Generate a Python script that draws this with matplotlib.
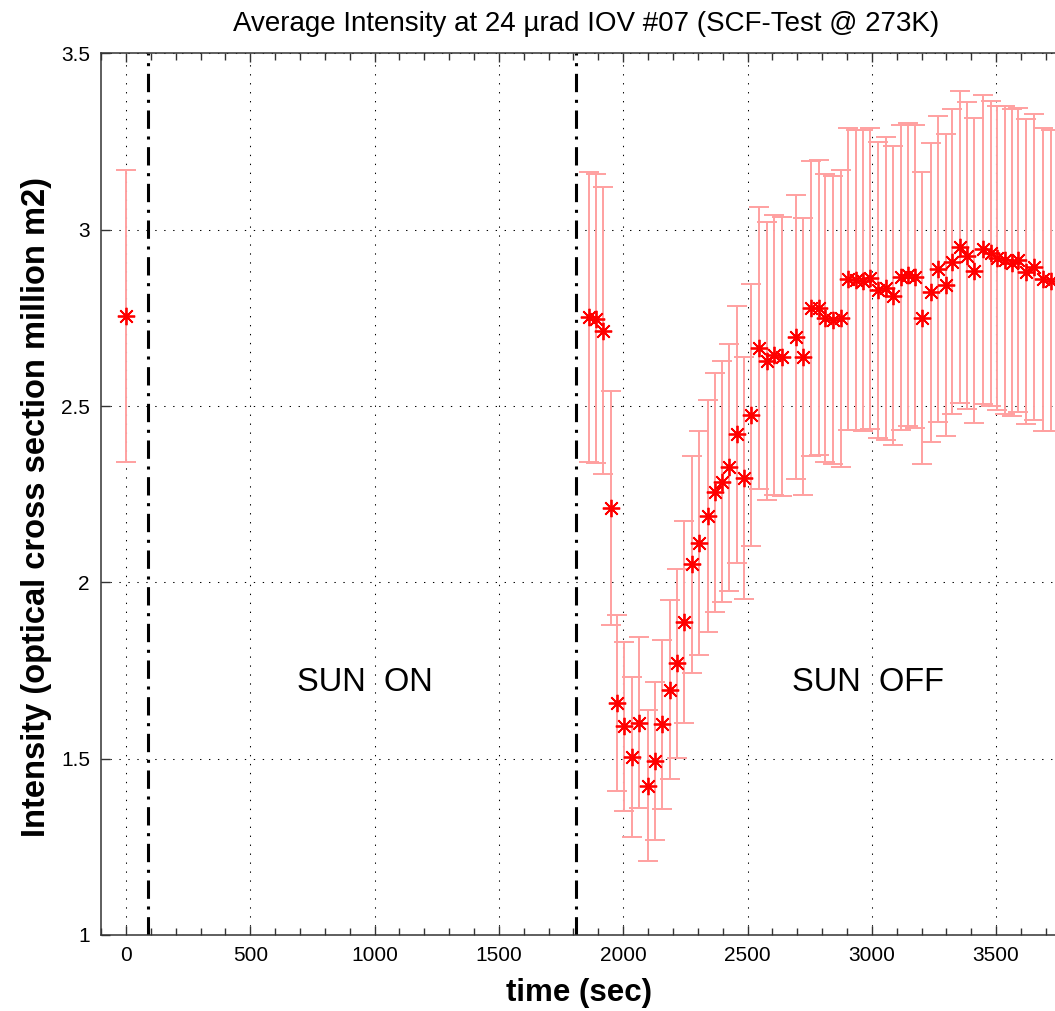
import numpy as np
import matplotlib
matplotlib.use('Agg')
import matplotlib.pyplot as plt
from matplotlib.ticker import MultipleLocator

plt.rcParams['font.family'] = ['Liberation Sans Narrow', 'Liberation Sans', 'DejaVu Sans']

# data
time = [0, 1862, 1891, 1920, 1950, 1976, 2004, 2037, 2065, 2101, 2128, 2157,
        2188, 2218, 2246, 2275, 2305, 2340, 2369, 2399, 2427, 2456, 2485, 2513,
        2548, 2580, 2608, 2638, 2695, 2722, 2754, 2788, 2812, 2843, 2875, 2905,
        2935, 2963, 2993, 3026, 3057, 3087, 3116, 3144, 3174, 3203, 3238, 3268,
        3297, 3324, 3355, 3384, 3412, 3449, 3478, 3505, 3536, 3563, 3589, 3620,
        3652, 3687, 3720]
intensity = [2.755, 2.753, 2.748, 2.714, 2.210, 1.657, 1.592, 1.505, 1.602, 1.423,
             1.494, 1.597, 1.695, 1.770, 1.888, 2.051, 2.111, 2.188, 2.255, 2.285,
             2.326, 2.420, 2.296, 2.474, 2.664, 2.628, 2.645, 2.640, 2.695, 2.640,
             2.777, 2.779, 2.749, 2.744, 2.749, 2.860, 2.857, 2.855, 2.862, 2.829,
             2.834, 2.812, 2.865, 2.872, 2.867, 2.750, 2.822, 2.889, 2.843, 2.909,
             2.950, 2.926, 2.884, 2.944, 2.933, 2.921, 2.914, 2.906, 2.914, 2.881,
             2.893, 2.859, 2.855]
err = [0.415, 0.412, 0.410, 0.408, 0.332, 0.249, 0.240, 0.226, 0.242, 0.214,
       0.224, 0.240, 0.254, 0.267, 0.286, 0.308, 0.318, 0.329, 0.340, 0.342,
       0.350, 0.364, 0.344, 0.372, 0.400, 0.394, 0.398, 0.395, 0.402, 0.392,
       0.418, 0.419, 0.408, 0.409, 0.421, 0.429, 0.425, 0.427, 0.427, 0.421,
       0.430, 0.424, 0.432, 0.430, 0.430, 0.414, 0.423, 0.434, 0.428, 0.432,
       0.442, 0.435, 0.432, 0.438, 0.433, 0.431, 0.437, 0.435, 0.432, 0.432,
       0.434, 0.430, 0.427]
sun_lines = [90, 1810]
xticks = [0, 500, 1000, 1500, 2000, 2500, 3000, 3500]
yticks = [1, 1.5, 2, 2.5, 3, 3.5]
ytick_labels = ['1', '1.5', '2', '2.5', '3', '3.5']

fig = plt.figure(figsize=(10.55, 10.11), dpi=100)
# axes run past the right edge of the picture, as in the reference
ax = fig.add_axes([101.1 / 1055, 76.1 / 1011, 969.6 / 1055, 881.5 / 1011])

ax.errorbar(time, intensity, yerr=err, fmt='none', ecolor='#ffa0a0',
            elinewidth=1.4, capsize=7, capthick=1.4, zorder=3)
ax.plot(time, intensity, linestyle='none', marker=(8, 2, 0), markersize=12.5,
        markeredgewidth=1.3, color='red', zorder=4)

for x in sun_lines:
    ax.axvline(x, color='black', lw=2.2, linestyle=(0, (6, 2.5, 1, 2.5)), zorder=2)

ax.text(962, 1.717, 'SUN  ON', fontsize=23.5, family=['Liberation Sans', 'DejaVu Sans'],
        ha='center', va='center')
ax.text(2985, 1.715, 'SUN  OFF', fontsize=23.5, family=['Liberation Sans', 'DejaVu Sans'],
        ha='center', va='center')

ax.set_xlim(-100, 3800)
ax.set_ylim(1, 3.5)
ax.set_xticks(xticks)
ax.set_yticks(yticks)
ax.set_yticklabels(ytick_labels)
ax.xaxis.set_minor_locator(MultipleLocator(100))
ax.grid(True, which='major', color='black', lw=0.75, linestyle=(0, (1.3, 7.3)))
ax.tick_params(which='both', direction='in', top=True, right=True, labelsize=15,
               width=1, color='#333333')
ax.tick_params(which='major', length=6.5, pad=8)
ax.tick_params(which='minor', length=5)
for s in ax.spines.values():
    s.set_color('#333333')
    s.set_linewidth(1.1)

ax.set_title('Average Intensity at 24 \u00b5rad IOV #07 (SCF-Test @ 273K)',
             fontsize=20, pad=16)
ax.set_xlabel('time (sec)', fontsize=22.5, fontweight='bold',
              family=['Liberation Sans', 'DejaVu Sans'])
ax.xaxis.set_label_coords(0.493, -0.049)
ax.xaxis.label.set_va('top')
ax.set_ylabel('Intensity (optical cross section million m2)', fontsize=23.5,
              fontweight='bold', family=['Liberation Sans', 'DejaVu Sans'])
ax.yaxis.set_label_coords(-0.051, 0.485)

fig.savefig('out.png', dpi=100)
